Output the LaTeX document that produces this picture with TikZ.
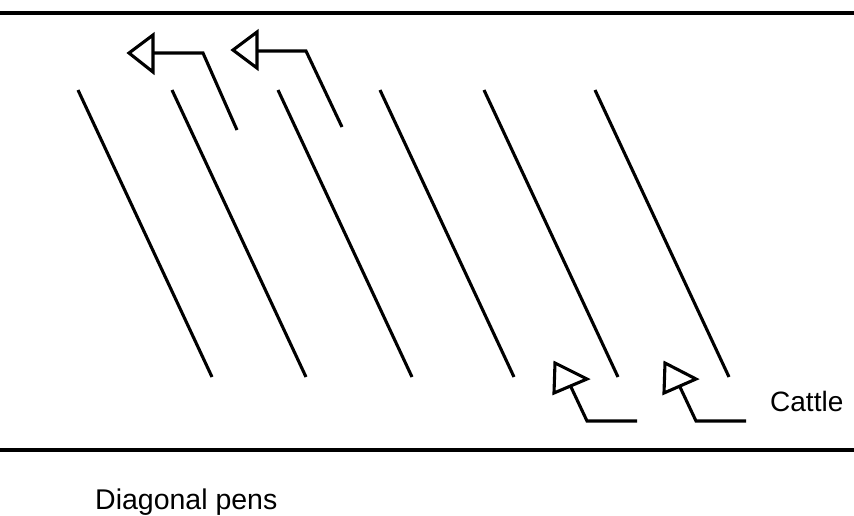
\documentclass[tikz,border=0pt]{standalone}
\usepackage{fontspec}
\setmainfont{Liberation Sans}
\begin{document}
\begin{tikzpicture}[x=1pt,y=-1pt,
  wall/.style={line width=3.4pt},
  pen/.style={line width=3.1pt},
  flow/.style={line width=3.1pt, line join=miter},
  head/.style={line width=3.1pt, line join=miter, fill=white},
  lbl/.style={inner sep=0pt, anchor=base west}]
\useasboundingbox (0,0) rectangle (854,515);
% walls
\coordinate (wl1) at (0,13); \coordinate (wr1) at (854,13);
\coordinate (wl2) at (0,450); \coordinate (wr2) at (854,450);
\draw[wall] (wl1) -- (wr1);
\draw[wall] (wl2) -- (wr2);
% diagonal pens
\foreach \i/\x in {1/78,2/172,3/278,4/380,5/484,6/595}{
  \coordinate (pt\i) at (\x,90);
  \coordinate (pb\i) at ({\x+134},377);
  \draw[pen] (pt\i) -- (pb\i);
}
% exit arrows (top)
\coordinate (a1s) at (237,130); \coordinate (a1c) at (203,53); \coordinate (a1b) at (153,53);
\draw[flow] (a1s) -- (a1c) -- (a1b);
\draw[head] (129,53) -- (153,35) -- (153,72) -- cycle;
\coordinate (a2s) at (342,127); \coordinate (a2c) at (306,51); \coordinate (a2b) at (257,51);
\draw[flow] (a2s) -- (a2c) -- (a2b);
\draw[head] (233,50) -- (257,32) -- (257,68) -- cycle;
% entry arrows (bottom)
\coordinate (a3s) at (637,421); \coordinate (a3c) at (587,421); \coordinate (a3b) at (571,387);
\draw[flow] (a3s) -- (a3c) -- (a3b);
\draw[head] (555,363) -- (587,379) -- (554,393) -- cycle;
\coordinate (a4s) at (746,421); \coordinate (a4c) at (696,421); \coordinate (a4b) at (680,387);
\draw[flow] (a4s) -- (a4c) -- (a4b);
\draw[head] (665,363) -- (696,379) -- (664,393) -- cycle;
% labels
\node[lbl, font=\fontsize{28}{32}\selectfont] (cattle) at (770,411) {Cattle};
\node[lbl, font=\fontsize{28.5}{33}\selectfont] (title) at (95,509) {Diagonal pens};
\end{tikzpicture}
\end{document}
